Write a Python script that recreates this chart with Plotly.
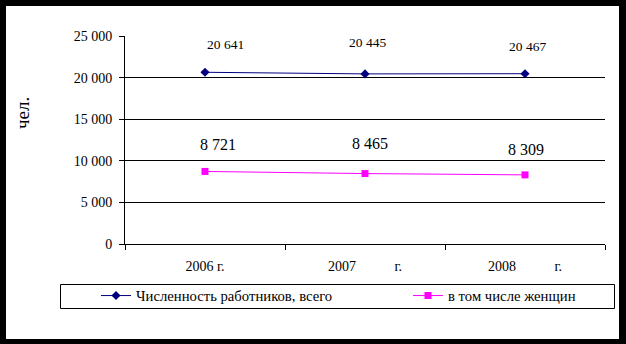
import plotly.graph_objects as go

# ---- data ----
categories = ["2006", "2007", "2008"]
tick_labels = ["2006 г.", "2007" + "\u00a0" * 11 + "г.", "2008" + "\u00a0" * 11 + "г."]
total_workers = [20641, 20445, 20467]
women = [8721, 8465, 8309]
series_names = ["Численность работников, всего", "в том числе женщин"]
y_ticks = [0, 5000, 10000, 15000, 20000, 25000]
grid_vals = [5000, 10000, 15000, 20000]
y_title = "чел."

# ---- label offsets (px) ----
total_label_shift = [(20, 28), (2, 31), (2, 27)]
women_label_shift = [(13, 27), (5, 30), (1, 25)]

FONT = "Liberation Serif"
NAVY = "#000080"
MAGENTA = "#FF00FF"

# plot area in pixels
L, R, T, B = 125, 605, 36, 244
W, H = R - L, B - T


def px_x(p):
    return (p - L) / W


def px_y(p):
    return (B - p) / H


def fmt(v):
    return f"{v:,}".replace(",", " ")


fig = go.Figure()
fig.add_trace(go.Scatter(
    x=categories, y=total_workers, name=series_names[0], mode="lines+markers",
    line=dict(color=NAVY, width=1), marker=dict(symbol="diamond", size=7, color=NAVY),
    hoverinfo="skip", legend="legend"))
fig.add_trace(go.Scatter(
    x=categories, y=women, name=series_names[1], mode="lines+markers",
    line=dict(color=MAGENTA, width=1), marker=dict(symbol="square", size=7, color=MAGENTA),
    hoverinfo="skip", legend="legend2"))
# invisible helper trace for grid axis
fig.add_trace(go.Scatter(x=categories, y=women, yaxis="y2", mode="lines",
                         line=dict(width=0), opacity=0, showlegend=False, hoverinfo="skip"))

annotations = []
for i, (v, (dx, dy)) in enumerate(zip(total_workers, total_label_shift)):
    annotations.append(dict(x=i, y=v, xref="x", yref="y", text=fmt(v), showarrow=False,
                            xshift=dx, yshift=dy, font=dict(family=FONT, size=13.5, color="black")))
for i, (v, (dx, dy)) in enumerate(zip(women, women_label_shift)):
    annotations.append(dict(x=i, y=v, xref="x", yref="y", text=fmt(v), showarrow=False,
                            xshift=dx, yshift=dy, font=dict(family=FONT, size=16, color="black")))
annotations.append(dict(x=px_x(22), y=px_y(113), xref="paper", yref="paper", text=y_title,
                        textangle=-90, showarrow=False, xanchor="center", yanchor="middle",
                        font=dict(family=FONT, size=19, color="black")))

shapes = [
    dict(type="rect", xref="paper", yref="paper", layer="below",
         x0=px_x(6), x1=px_x(619), y0=px_y(339), y1=px_y(6),
         fillcolor="white", line=dict(width=0)),
    dict(type="rect", xref="paper", yref="paper", layer="below",
         x0=px_x(60.5), x1=px_x(614.5), y0=px_y(308.5), y1=px_y(284.5),
         fillcolor="white", line=dict(color="black", width=1)),
]

legend_common = dict(orientation="h", xanchor="left", y=px_y(296), yanchor="middle",
                     bgcolor="rgba(0,0,0,0)", borderwidth=0,
                     font=dict(family=FONT, size=14.7, color="black"), itemclick=False)

fig.update_layout(
    width=626, height=344,
    margin=dict(l=L, r=626 - R, t=T, b=344 - B),
    paper_bgcolor="black", plot_bgcolor="white",
    separators=", ",
    font=dict(family=FONT, size=14, color="black"),
    showlegend=True,
    legend=dict(x=px_x(96), **legend_common),
    legend2=dict(x=px_x(408), **legend_common),
    xaxis=dict(type="category", range=[-0.5, 2.5], tickvals=categories, ticktext=tick_labels,
               tickson="boundaries", ticks="outside", ticklen=5, tickcolor="black",
               showline=True, linecolor="black", linewidth=1, showgrid=False,
               ticklabelstandoff=9, tickfont=dict(family=FONT, size=14, color="black")),
    yaxis=dict(range=[0, 25000], tickvals=y_ticks, tickformat=",d", ticks="outside",
               ticklen=5, tickcolor="black", showline=True, linecolor="black", linewidth=1,
               showgrid=False, zeroline=False, ticklabelstandoff=4,
               tickfont=dict(family=FONT, size=14, color="black")),
    yaxis2=dict(range=[0, 25000], overlaying="y", side="left", tickvals=grid_vals,
                showticklabels=False, ticks="", showgrid=True, gridcolor="black", gridwidth=1,
                zeroline=False, showline=False),
    annotations=annotations,
    shapes=shapes,
)

fig.write_html("out.html")
